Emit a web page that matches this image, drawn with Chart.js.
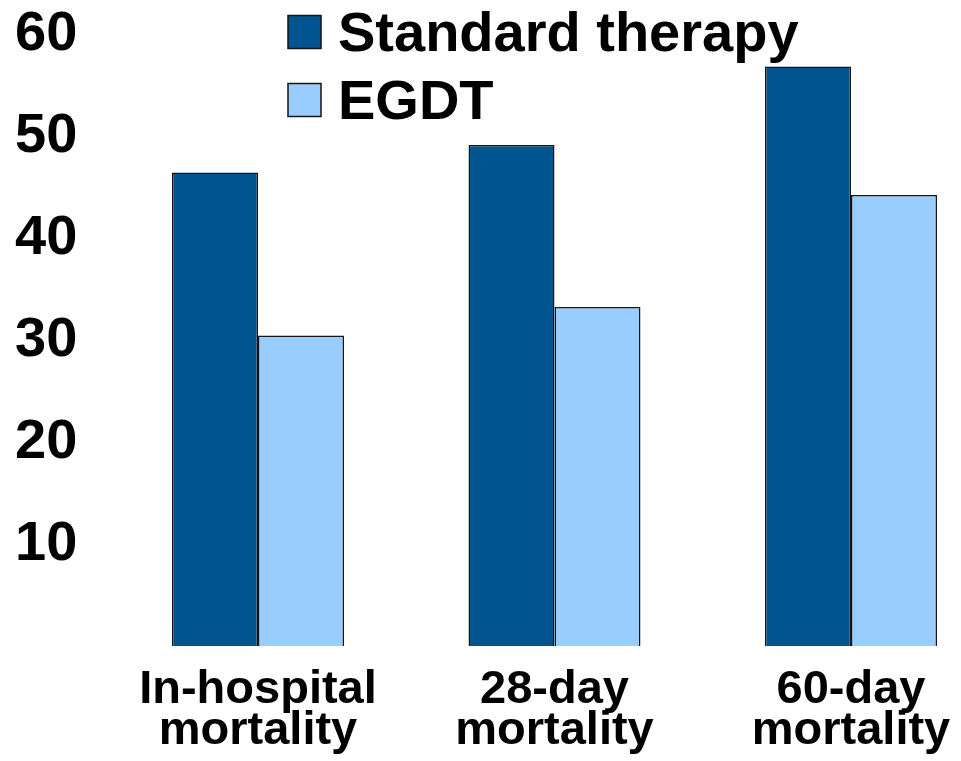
<!DOCTYPE html>
<html>
<head>
<meta charset="utf-8">
<script src="https://cdn.jsdelivr.net/npm/chart.js@4/dist/chart.umd.min.js"></script>
<style>
  html, body { margin: 0; padding: 0; background: #ffffff; }
  #wrap { width: 961px; height: 761px; }
</style>
</head>
<body>
<div id="wrap"><canvas id="c" width="961" height="761"></canvas></div>
<script>
// Mortality (%) by outcome, standard therapy vs early goal-directed therapy
const categories = [["In-hospital", "mortality"], ["28-day", "mortality"], ["60-day", "mortality"]];
const seriesNames = ["Standard therapy", "EGDT"];
const standardTherapy = [46.5, 49.2, 56.9];
const egdt = [30.5, 33.3, 44.3];
const yTicks = [10, 20, 30, 40, 50, 60];

const FONT = "'Liberation Sans', Arial, Helvetica, sans-serif";
const DARK = "#00548f";
const LIGHT = "#99ccff";
const EDGE = "#151515";

// Stacked legend drawn at the top, built from the dataset labels and colours
const stackedLegend = {
  id: "stackedLegend",
  afterDraw(chart) {
    const ctx = chart.ctx;
    const x0 = 288, box = 33, rowY = [32, 100];
    ctx.save();
    chart.data.datasets.forEach((ds, i) => {
      const cy = rowY[i];
      ctx.fillStyle = ds.backgroundColor;
      ctx.fillRect(x0, cy - box / 2, box, box);
      ctx.lineWidth = 1.5;
      ctx.strokeStyle = EDGE;
      ctx.strokeRect(x0, cy - box / 2, box, box);
      ctx.fillStyle = "#000000";
      ctx.font = "bold 56px " + FONT;
      ctx.textAlign = "left";
      ctx.textBaseline = "middle";
      ctx.fillText(ds.label, x0 + 50, cy + 4);
    });
    ctx.restore();
  }
};

new Chart(document.getElementById("c"), {
  type: "bar",
  data: {
    labels: categories,
    datasets: [
      { label: seriesNames[0], data: standardTherapy, backgroundColor: DARK,
        borderColor: EDGE, borderWidth: 1.5, clip: false },
      { label: seriesNames[1], data: egdt, backgroundColor: LIGHT,
        borderColor: EDGE, borderWidth: 1.5, clip: false }
    ]
  },
  options: {
    responsive: false,
    animation: false,
    layout: { padding: { left: 15, top: 35, right: 110, bottom: 0 } },
    datasets: { bar: { categoryPercentage: 0.58, barPercentage: 1.0 } },
    plugins: { legend: { display: false }, tooltip: { enabled: false } },
    scales: {
      x: {
        offset: false,
        grid: { display: false, drawTicks: false },
        border: { display: false },
        ticks: {
          autoSkip: false, maxRotation: 0, minRotation: 0,
          color: "#000000", padding: 24,
          font: { family: FONT, size: 47, weight: "bold", lineHeight: 0.86 }
        },
        afterFit(scale) {
          scale.height = 115;
          scale.paddingLeft = 0;
          scale.paddingRight = 0;
        }
      },
      y: {
        min: 0, max: 60,
        grid: { display: false, drawTicks: false },
        border: { display: false },
        ticks: {
          stepSize: 10, color: "#000000", crossAlign: "far", padding: 0,
          font: { family: FONT, size: 56, weight: "bold" },
          callback: (v) => (yTicks.includes(v) ? String(v) : "")
        },
        afterFit(scale) { scale.width = 243; }
      }
    }
  },
  plugins: [stackedLegend]
});
</script>
</body>
</html>
